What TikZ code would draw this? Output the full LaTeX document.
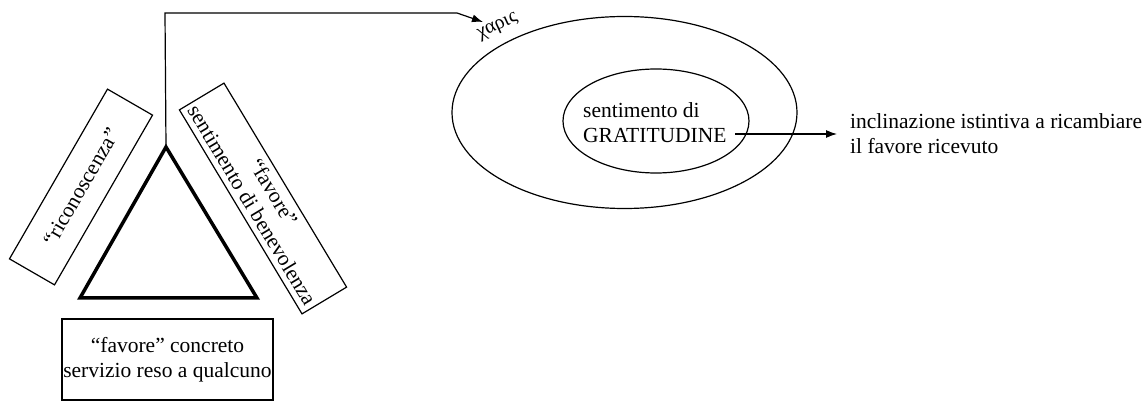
\documentclass[tikz,border=0pt]{standalone}
\usepackage{fontspec}
\setmainfont{Liberation Serif}
\usetikzlibrary{shapes.geometric,arrows.meta}
\begin{document}
\begin{tikzpicture}[x=1pt,y=-1pt,
  font=\fontsize{21.5}{25}\selectfont,
  thin line/.style={line width=1.2pt},
  box/.style={draw,thin line,inner sep=0pt,align=center},
  oval/.style={draw,thin line,ellipse,inner sep=0pt},
  arr/.style={thin line,-{Latex[length=11pt,width=8pt]}},
  plain/.style={inner sep=0pt,align=left}]
\useasboundingbox (0,0) rectangle (1146,403);
% triangle
\coordinate (apex) at (166,147);
\coordinate (bl) at (80,298);
\coordinate (br) at (257,298);
\draw[line width=3.5pt,line join=miter] (apex) -- (bl) -- (br) -- cycle;
% boxes
\node[box,minimum width=196pt,minimum height=52pt,rotate=60] (ric) at (81,187) {“riconoscenza”};
\node[box,minimum width=238pt,minimum height=52pt,rotate=-59] (fav) at (263,198.5) {“favore”\\sentimento di benevolenza};
\node[box,minimum width=211pt,minimum height=81pt] (conc) at (167.5,359.5) {“favore” concreto\\servizio reso a qualcuno};
% ellipses
\node[oval,minimum width=345pt,minimum height=192pt] (outer) at (624.5,112.5) {};
\node[oval,minimum width=186pt,minimum height=104pt] (inner) at (656,121) {};
\node[plain,anchor=west] (sent) at (583,123) {sentimento di\\GRATITUDINE};
\node[inner ysep=0pt,inner xsep=0pt,rotate=25,font=\fontsize{20}{24}\selectfont] (charis) at (498,27) {χαρις};
\node[plain,anchor=west] (incl) at (850,134) {inclinazione istintiva a ricambiare\\il favore ricevuto};
% connectors
\coordinate (b1) at (165,13);
\coordinate (b2) at (457,13);
\coordinate (tip) at (483,22);
\draw[arr] (apex) -- (b1) -- (b2) -- (tip);
\coordinate (a1) at (735,134);
\coordinate (a2) at (837,134);
\draw[arr] (a1) -- (a2);
\end{tikzpicture}
\end{document}
